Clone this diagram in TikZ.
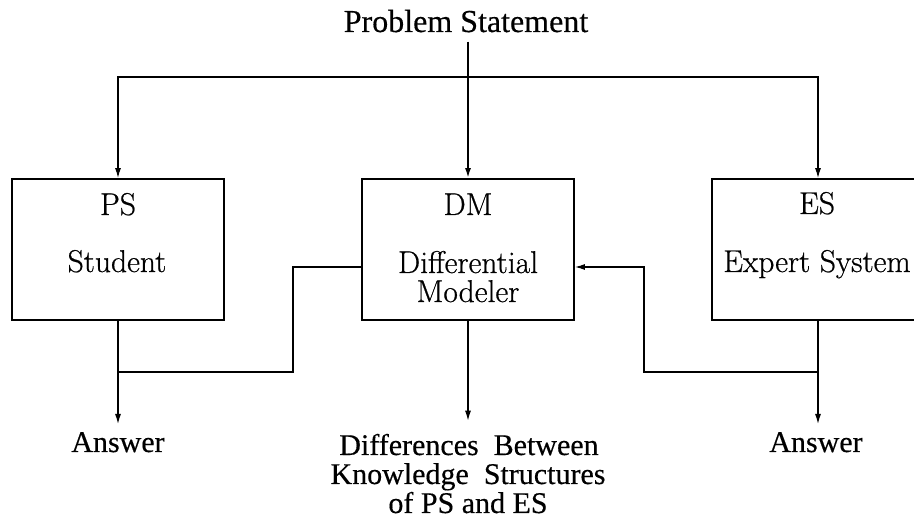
\documentclass[tikz,border=0pt]{standalone}
\usepackage{fontspec}
\usetikzlibrary{arrows.meta}
\newfontfamily\tms{Liberation Serif}[FakeBold=0.4]
\newfontfamily\cmr{Latin Modern Roman}[FakeBold=0.6]
\begin{document}
\begin{tikzpicture}[x=1pt,y=-1pt,
  box/.style={draw,line width=1.8pt,minimum width=212pt,minimum height=141pt,inner sep=0pt},
  intext/.style={anchor=base,inner sep=0pt,font=\cmr\fontsize{31.5}{32}\selectfont},
  outtext/.style={anchor=base,inner sep=0pt,font=\tms\fontsize{30}{30}\selectfont},
  conn/.style={line width=1.2pt},
  arr/.style={conn,-{Latex[length=10pt,width=6pt]}}]
\useasboundingbox[fill=white] (0,0) rectangle (914,521);
% boxes
\node[box] (ps) at (118,249.5) {};
\node[box] (dm) at (468,249.5) {};
\node[box] (es) at (818,249.5) {};
% box texts
\node[intext] (psT) at (118,215) {PS};
\node[intext] (psS) at (117,272) {Student};
\node[intext] (dmT) at (468,215) {DM};
\node[intext] (dmS1) at (468,273) {Differential};
\node[intext] (dmS2) at (468,302) {Modeler};
\node[intext] (esT) at (817,214) {ES};
\node[intext] (esS) at (817,272) {Expert System};
% outer texts
\node[anchor=base,inner sep=0pt,font=\tms\fontsize{32}{32}\selectfont] (prob) at (466,32) {Problem Statement};
\node[outtext] (ansL) at (118,452) {Answer};
\node[outtext] (ansR) at (816,452) {Answer};
\node[outtext] (diff1) at (469,455) {Differences\hspace{0.5em}Between};
\node[outtext] (diff2) at (468,484) {Knowledge\hspace{0.5em}Structures};
\node[outtext] (diff3) at (468,513) {of PS and ES};
% coordinates
\coordinate (J) at (468,77);
\coordinate (kL) at (293,372);
\coordinate (fbL) at (293,267);
\coordinate (kR) at (644,372);
\coordinate (fbR) at (644,267);
% connectors
\draw[arr,line width=1.8pt] (prob.south -| dm.north) ++(0,9) -- (dm.north);
\draw[arr] (J) -| (ps.north);
\draw[arr] (J) -| (es.north);
\draw[arr] (ps.south) -- ([yshift=8pt]ansL.north);
\draw[arr] (es.south -| ansR.north) ++(2,0) -- ([yshift=8pt,xshift=2pt]ansR.north);
\draw[arr] (dm.south) -- ([yshift=13pt]diff1.north -| dm.south);
\draw[conn] (dm.west |- fbL) -- (fbL) -- (kL) -- (ps.south |- kL);
\draw[arr] (es.south |- kR) -- (kR) -- (fbR) -- (dm.east |- fbR);
\end{tikzpicture}
\end{document}
